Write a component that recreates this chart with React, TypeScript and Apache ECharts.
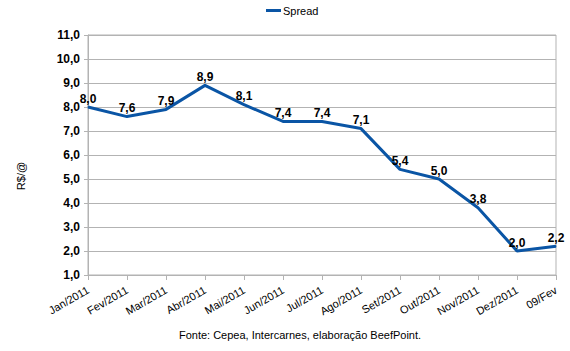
import React, { useEffect, useRef } from "react";
import * as echarts from "echarts";

const categories = [
  "Jan/2011", "Fev/2011", "Mar/2011", "Abr/2011", "Mai/2011", "Jun/2011",
  "Jul/2011", "Ago/2011", "Set/2011", "Out/2011", "Nov/2011", "Dez/2011", "09/Fev",
];
const spread = [8.0, 7.6, 7.9, 8.9, 8.1, 7.4, 7.4, 7.1, 5.4, 5.0, 3.8, 2.0, 2.2];
const seriesName = "Spread";
const yAxisName = "R$/@";
const sourceNote = "Fonte: Cepea, Intercarnes, elaboração BeefPoint.";

const fmt = (v: number) => v.toFixed(1).replace(".", ",");
const FONT = "Liberation Sans, Arial, sans-serif";

export default function App() {
  const ref = useRef<HTMLDivElement>(null);
  useEffect(() => {
    if (!ref.current) return;
    const chart = echarts.init(ref.current, null, { renderer: "svg" });
    chart.setOption({
      animation: false,
      textStyle: { fontFamily: FONT },
      legend: {
        data: [seriesName],
        top: 0,
        left: 261,
        itemWidth: 15,
        itemHeight: 3,
        textStyle: { fontSize: 11, color: "#000", padding: [0, 0, 0, -3] },
        icon: "rect",
      },
      grid: { left: 88, right: 14, top: 35, bottom: 76, show: true, borderColor: "#b3b3b3", borderWidth: 1, backgroundColor: "transparent" },
      xAxis: {
        type: "category",
        data: categories,
        boundaryGap: false,
        axisLine: { lineStyle: { color: "#b3b3b3" } },
        axisTick: { show: true, length: 5, alignWithLabel: true, lineStyle: { color: "#b3b3b3" } },
        axisLabel: { rotate: 30, fontSize: 11, color: "#000", margin: 14, interval: 0 },
      },
      yAxis: {
        type: "value",
        min: 1,
        max: 11,
        interval: 1,
        axisLine: { show: true, lineStyle: { color: "#b3b3b3" } },
        axisTick: { show: true, length: 4, lineStyle: { color: "#b3b3b3" } },
        axisLabel: { fontSize: 12, fontWeight: "bold", color: "#000", margin: 8, formatter: (v: number) => fmt(v) },
        splitLine: { lineStyle: { color: "#b3b3b3" } },
      },
      series: [
        {
          name: seriesName,
          type: "line",
          data: spread,
          symbol: "circle",
          symbolSize: 1,
          showSymbol: true,
          lineStyle: { color: "#0a55a5", width: 3 },
          itemStyle: { color: "#0a55a5" },
          label: {
            show: true,
            position: "top",
            distance: 2,
            fontSize: 12,
            fontWeight: "bold",
            color: "#000",
            formatter: (p: any) => fmt(p.value),
          },
        },
      ],
      graphic: [
        {
          type: "text",
          x: 21,
          y: 176,
          rotation: Math.PI / 2,
          style: { text: yAxisName, fontSize: 11, fill: "#000", fontFamily: FONT, align: "center", verticalAlign: "middle" },
        },
        {
          type: "text",
          x: 300,
          y: 335,
          style: { text: sourceNote, fontSize: 11, fill: "#000", fontFamily: FONT, align: "center", verticalAlign: "middle" },
        },
      ],
    });
    return () => chart.dispose();
  }, []);
  return <div ref={ref} style={{ width: 570, height: 351, position: "absolute", left: 0, top: 0 }} />;
}
